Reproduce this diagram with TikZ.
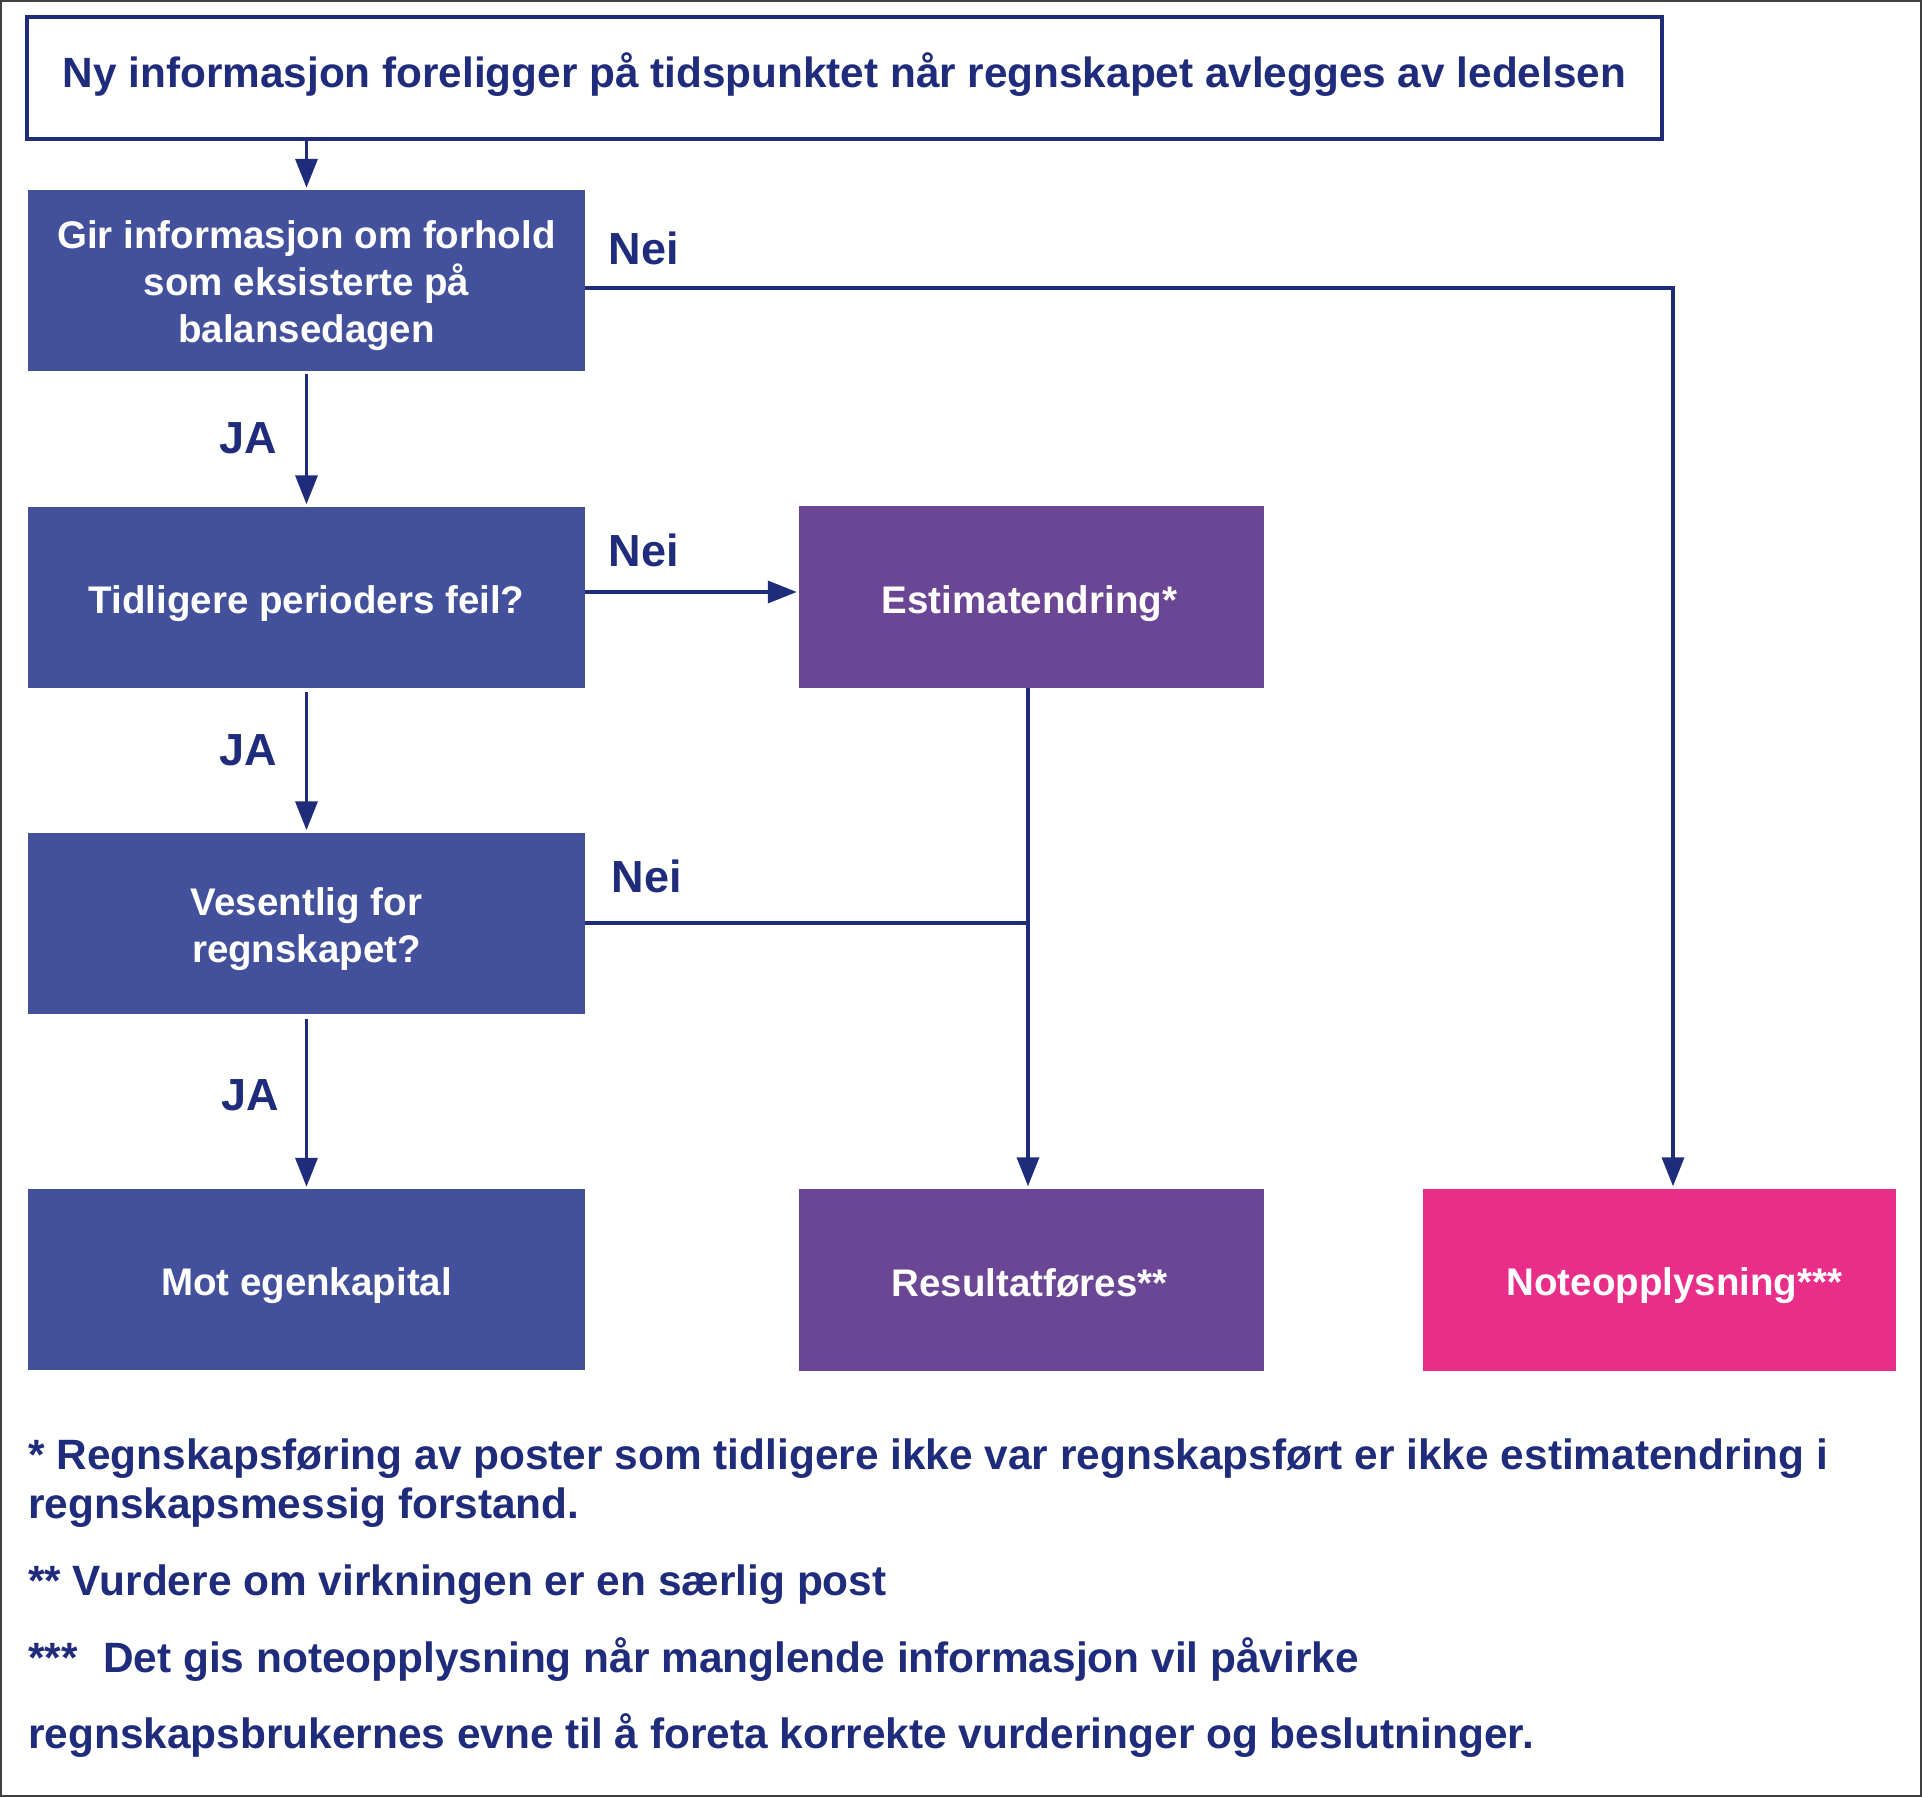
\documentclass[tikz,border=0pt]{standalone}
\usepackage{fontspec}
\setmainfont{Liberation Sans}
\usetikzlibrary{arrows.meta}
\definecolor{navy}{HTML}{1F2B7B}
\definecolor{boxblue}{HTML}{43519D}
\definecolor{boxpurple}{HTML}{6A4695}
\definecolor{boxpink}{HTML}{E92E8A}
\begin{document}
\begin{tikzpicture}[x=1pt,y=-1pt,
  fbox/.style={draw=none, inner sep=0pt},
  btext/.style={text=white, align=center, inner sep=0pt,
    font=\bfseries\fontsize{38.5}{47}\selectfont},
  bluebox/.style={fbox, fill=boxblue, minimum width=557pt, minimum height=181pt},
  purplebox/.style={fbox, fill=boxpurple, minimum width=465pt, minimum height=182pt},
  pinkbox/.style={fbox, fill=boxpink, minimum width=473pt, minimum height=182pt},
  lbl/.style={text=navy, inner sep=0pt, font=\bfseries\fontsize{45}{54}\selectfont},
  foot/.style={text=navy, inner sep=0pt, anchor=west, font=\bfseries\fontsize{42.4}{50}\selectfont},
  line/.style={draw=navy, line width=3.5pt},
  conn/.style={line, -{Triangle[length=29pt,width=22pt]}}]
\useasboundingbox (0,0) rectangle (1922,1797);
\draw[line width=2pt, draw=black!75] (1,1) rectangle (1921,1796);
% top box
\node[draw=navy, line width=3.5pt, fill=white, minimum width=1635pt, minimum height=122pt,
  inner sep=0pt] (top) at (844.5,78) {};
\node[text=navy, inner sep=0pt, font=\bfseries\fontsize{42.3}{50}\selectfont] (toptext) at (844.5,75)
  {Ny informasjon foreligger på tidspunktet når regnskapet avlegges av ledelsen};
% boxes
\node[bluebox] (gir) at (306.5,280.5) {};
\node[bluebox] (tid) at (306.5,597) {};
\node[bluebox] (ves) at (306.5,923) {};
\node[bluebox] (mot) at (306.5,1279.5) {};
\node[purplebox] (est) at (1031.5,597) {};
\node[purplebox] (res) at (1031.5,1279.5) {};
\node[pinkbox] (note) at (1659.5,1279.5) {};
% box texts
\node[btext] (girt) at ([yshift=-5pt]gir.center) {Gir informasjon om forhold\\som eksisterte på\\balansedagen};
\node[btext] (tidt) at ([yshift=-7pt]tid.center) {Tidligere perioders feil?};
\node[btext] (vest) at ([yshift=-6pt]ves.center) {Vesentlig for\\regnskapet?};
\node[btext] (mott) at ([yshift=-6pt]mot.center) {Mot egenkapital};
\node[btext] (estt) at ([xshift=-2pt,yshift=-7pt]est.center) {Estimatendring*};
\node[btext] (rest) at ([xshift=-2pt,yshift=-4pt]res.center) {Resultatføres**};
\node[btext] (notet) at ([xshift=15pt,yshift=-6pt]note.center) {Noteopplysning***};
% connectors
\draw[conn] (top.south -| gir.north) -- ([yshift=2pt]gir.north);
\draw[conn] ([yshift=-3pt]gir.south) -- ([yshift=2pt]tid.north);
\draw[conn] ([yshift=-4pt]tid.south) -- ([yshift=2pt]ves.north);
\draw[conn] ([yshift=-5pt]ves.south) -- ([yshift=2pt]mot.north);
\draw[conn] ([yshift=-7.5pt]gir.east) -| ([xshift=13.5pt,yshift=2pt]note.north);
\draw[conn] ([yshift=5pt]tid.east) -- ([xshift=-2pt,yshift=5pt]est.west);
\draw[conn] ([xshift=-3.5pt]est.south) -- ([xshift=-3.5pt,yshift=2pt]res.north);
\coordinate (join) at ([xshift=-3.5pt]est.south |- ves.east);
\draw[line] (ves.east) -- (join);
% labels
\node[lbl] (nei1) at (644,248) {Nei};
\node[lbl] (nei2) at (644,550) {Nei};
\node[lbl] (nei3) at (647,876) {Nei};
\node[lbl] (ja1) at (248,438) {JA};
\node[lbl] (ja2) at (248,750) {JA};
\node[lbl] (ja3) at (250,1095) {JA};
% footnotes
\node[foot] (f1) at (28,1459) {* Regnskapsføring av poster som tidligere ikke var regnskapsført er ikke estimatendring i};
\node[foot] (f2) at (28,1508) {regnskapsmessig forstand.};
\node[foot] (f3) at (28,1585) {** Vurdere om virkningen er en særlig post};
\node[foot] (f4) at (28,1660) {***\hspace{0.6em}Det gis noteopplysning når manglende informasjon vil påvirke};
\node[foot] (f5) at (28,1736) {regnskapsbrukernes evne til å foreta korrekte vurderinger og beslutninger.};
\end{tikzpicture}
\end{document}
